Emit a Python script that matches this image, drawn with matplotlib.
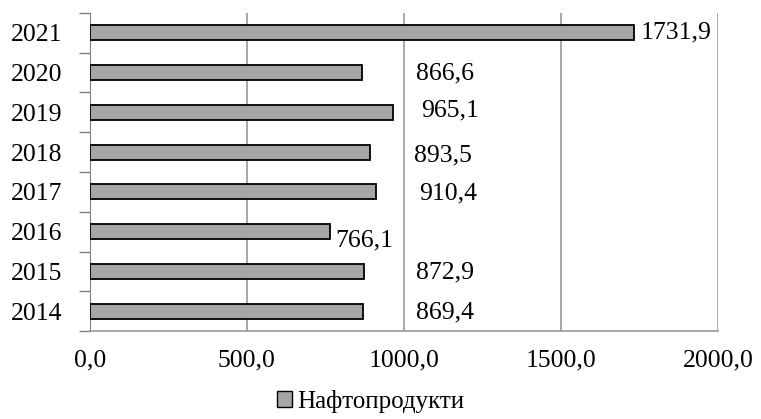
import matplotlib.pyplot as plt
from matplotlib.patches import Patch

years = ['2014', '2015', '2016', '2017', '2018', '2019', '2020', '2021']
values = [869.4, 872.9, 766.1, 910.4, 893.5, 965.1, 866.6, 1731.9]
labels = ['869,4', '872,9', '766,1', '910,4', '893,5', '965,1', '866,6', '1731,9']
# where the value labels sit (left edge, in data units) and small vertical nudges
label_x = [1040, 1040, 782, 1047, 1031, 1056, 1040, 1755]
label_dy = [-0.03, -0.03, -0.22, -0.05, -0.08, 0.05, -0.02, 0.0]

plt.rcParams['font.family'] = ['Liberation Serif', 'DejaVu Serif']

fig = plt.figure(figsize=(7.61, 4.19), dpi=100)
ax = fig.add_axes([0.118, 0.21, 0.8255, 0.759])

pos = list(range(len(years)))
ax.barh(pos, values, height=0.38, color='#a6a6a6', edgecolor='black', linewidth=1.3, zorder=3)

for i in pos:
    ax.text(label_x[i], i + label_dy[i], labels[i], ha='left', va='center', fontsize=18.5)

ax.set_xlim(0, 2000)
ax.set_ylim(-0.5, 7.5)
ax.set_xticks([0, 500, 1000, 1500, 2000])
ax.set_xticklabels(['0,0', '500,0', '1000,0', '1500,0', '2000,0'], fontsize=18.5)
ax.set_yticks(pos)
ax.set_yticklabels(years, fontsize=18.5)
ax.set_yticks([p - 0.5 for p in pos] + [7.5], minor=True)
ax.tick_params(axis='y', which='major', length=0, pad=20)
ax.tick_params(axis='y', which='minor', length=8, color='#808080', width=1)
ax.tick_params(axis='x', length=0, pad=13)
ax.grid(axis='x', color='#999999', linewidth=1.2, zorder=0)

for s in ['top', 'right']:
    ax.spines[s].set_visible(False)
ax.spines['left'].set_color('#808080')
ax.spines['bottom'].set_color('#999999')
ax.spines['bottom'].set_linewidth(1.2)

handle = Patch(facecolor='#a6a6a6', edgecolor='black', linewidth=1)
fig.legend([handle], ['Нафтопродукти'], loc='center', bbox_to_anchor=(0.487, 0.042),
           frameon=False, fontsize=18, handlelength=0.6, handleheight=0.6, handletextpad=0.2)

fig.savefig('out.png', dpi=100)
